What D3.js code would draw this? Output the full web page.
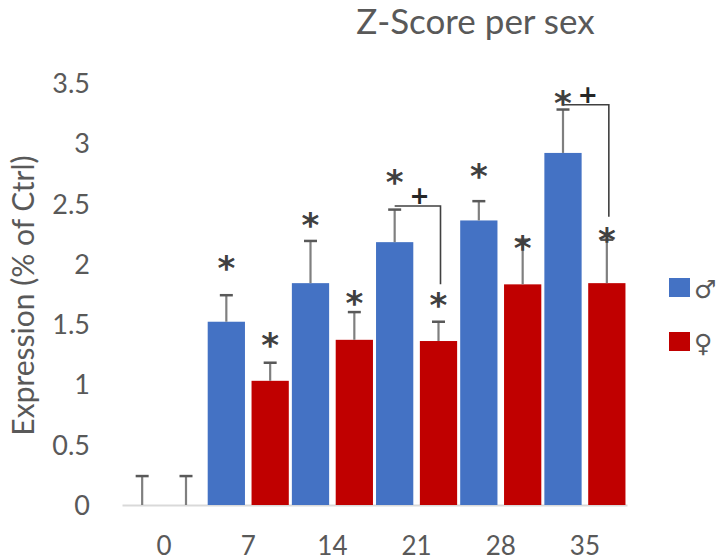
<!DOCTYPE html>
<html>
<head>
<meta charset="utf-8">
<script src="https://cdn.jsdelivr.net/npm/d3@7"></script>
<style>
  html, body { margin: 0; padding: 0; background: #fff; }
  svg { display: block; }
</style>
</head>
<body>
<svg id="chart" width="717" height="560"></svg>
<script>
// ---- data ----
const categories = ["0", "7", "14", "21", "28", "35"];
const seriesNames = ["♂", "♀"];
const maleValues   = [0, 1.52, 1.84, 2.18, 2.36, 2.92];
const femaleValues = [0, 1.03, 1.37, 1.36, 1.83, 1.84];
const maleErrors   = [0.24, 0.22, 0.35, 0.27, 0.16, 0.36];
const femaleErrors = [0.24, 0.15, 0.23, 0.16, 0.37, 0.36];
// asterisk positions (value units), null = none
const maleStars    = [null, 2.02, 2.38, 2.74, 2.79, 3.39];
const femaleStars  = [null, 1.385, 1.73, 1.72, 2.19, 2.26];
// brackets between sexes: category, top level, female-side end level
const bracketCats   = ["21", "35"];
const bracketTops   = [2.48, 3.32];
const bracketEnds   = [1.83, 2.39];
const yTicks = [0, 0.5, 1, 1.5, 2, 2.5, 3, 3.5];

const FONT = "Lato, 'Open Sans', sans-serif";
const TXT = "#595959";
const colors = ["#4472C4", "#C00000"];

const svg = d3.select("#chart");

const x = d3.scaleBand().domain(categories).range([122, 627]).padding(0);
const xs = d3.scaleBand().domain(seriesNames).range([0, x.bandwidth()])
  .paddingInner(0.15).paddingOuter(0.035);
const y = d3.scaleLinear().domain([0, 3.5]).range([505, 83]);

// title
svg.append("text")
  .attr("x", 475.5).attr("y", 34)
  .attr("text-anchor", "middle")
  .attr("font-family", FONT).attr("font-size", 35)
  .attr("fill", TXT)
  .text("Z-Score per sex");

// y axis (labels only)
const yAxis = d3.axisLeft(y).tickValues(yTicks).tickSize(0).tickPadding(0)
  .tickFormat(d => String(d));
const gy = svg.append("g").attr("transform", "translate(90,0)").call(yAxis);
gy.select(".domain").remove();
gy.selectAll("text").attr("font-family", FONT).attr("font-size", 27)
  .attr("fill", TXT).attr("dy", "0.35em");

// y axis title
svg.append("text")
  .attr("transform", "translate(34,295.5) rotate(-90)")
  .attr("text-anchor", "middle")
  .attr("font-family", FONT).attr("font-size", 30)
  .attr("fill", TXT)
  .text("Expression (% of Ctrl)");

// x axis
const xAxis = d3.axisBottom(x).tickSize(0).tickPadding(30);
const gx = svg.append("g").attr("transform", "translate(0,505)").call(xAxis);
gx.select(".domain").attr("stroke", "#d9d9d9").attr("stroke-width", 2);
gx.selectAll("text").attr("font-family", FONT).attr("font-size", 26)
  .attr("fill", TXT).attr("dy", null).attr("y", 50);

// build records
const rows = [];
categories.forEach((c, i) => {
  rows.push({cat: c, s: seriesNames[0], si: 0, v: maleValues[i], e: maleErrors[i], star: maleStars[i]});
  rows.push({cat: c, s: seriesNames[1], si: 1, v: femaleValues[i], e: femaleErrors[i], star: femaleStars[i]});
});
const cx = d => x(d.cat) + xs(d.s) + xs.bandwidth() / 2;

// bars
svg.append("g").selectAll("rect").data(rows.filter(d => d.v > 0)).join("rect")
  .attr("x", d => x(d.cat) + xs(d.s))
  .attr("y", d => y(d.v))
  .attr("width", xs.bandwidth())
  .attr("height", d => y(0) - y(d.v))
  .attr("fill", d => colors[d.si]);

// error bars
const eg = svg.append("g");
eg.selectAll("line.stem").data(rows).join("line").attr("class", "stem")
  .attr("x1", cx).attr("x2", cx)
  .attr("y1", d => y(d.v)).attr("y2", d => y(d.v + d.e))
  .attr("stroke", "#7f7f7f").attr("stroke-width", 2.2);
eg.selectAll("line.cap").data(rows).join("line").attr("class", "cap")
  .attr("x1", d => cx(d) - 6.5).attr("x2", d => cx(d) + 6.5)
  .attr("y1", d => y(d.v + d.e)).attr("y2", d => y(d.v + d.e))
  .attr("stroke", "#595959").attr("stroke-width", 2.5);

// brackets
const bg = svg.append("g");
bracketCats.forEach((c, i) => {
  const x1 = x(c) + xs(seriesNames[0]) + xs.bandwidth() / 2;
  const x2 = x(c) + xs(seriesNames[1]) + xs.bandwidth() / 2 + 2;
  bg.append("path")
    .attr("d", d3.line()([[x1, y(bracketTops[i])], [x2, y(bracketTops[i])], [x2, y(bracketEnds[i])]]))
    .attr("fill", "none").attr("stroke", "#404040").attr("stroke-width", 1.6);
  bg.append("text")
    .attr("x", (x1 + x2) / 2 + 2).attr("y", y(bracketTops[i]) - 2)
    .attr("text-anchor", "middle")
    .attr("font-family", "'DejaVu Sans', sans-serif").attr("font-weight", "bold")
    .attr("font-size", 24).attr("fill", "#262626")
    .text("+");
});

// asterisks
const STAR = 34;
svg.append("g").selectAll("text").data(rows.filter(d => d.star != null)).join("text")
  .attr("x", cx)
  .attr("y", d => y(d.star) + STAR * 0.56)
  .attr("text-anchor", "middle")
  .attr("font-family", "'DejaVu Sans', sans-serif").attr("font-weight", "bold")
  .attr("font-size", STAR)
  .attr("fill", "#404040")
  .text("*");

// legend
const lg = svg.append("g");
seriesNames.forEach((s, i) => {
  lg.append("rect").attr("x", 669).attr("y", 278 + i * 54)
    .attr("width", 21).attr("height", 19).attr("fill", colors[i]);
  lg.append("text").attr("x", 694).attr("y", 278 + i * 54 + 20)
    .attr("font-family", "'DejaVu Sans', sans-serif").attr("font-size", 25)
    .attr("fill", TXT).text(s);
});
</script>
</body>
</html>
